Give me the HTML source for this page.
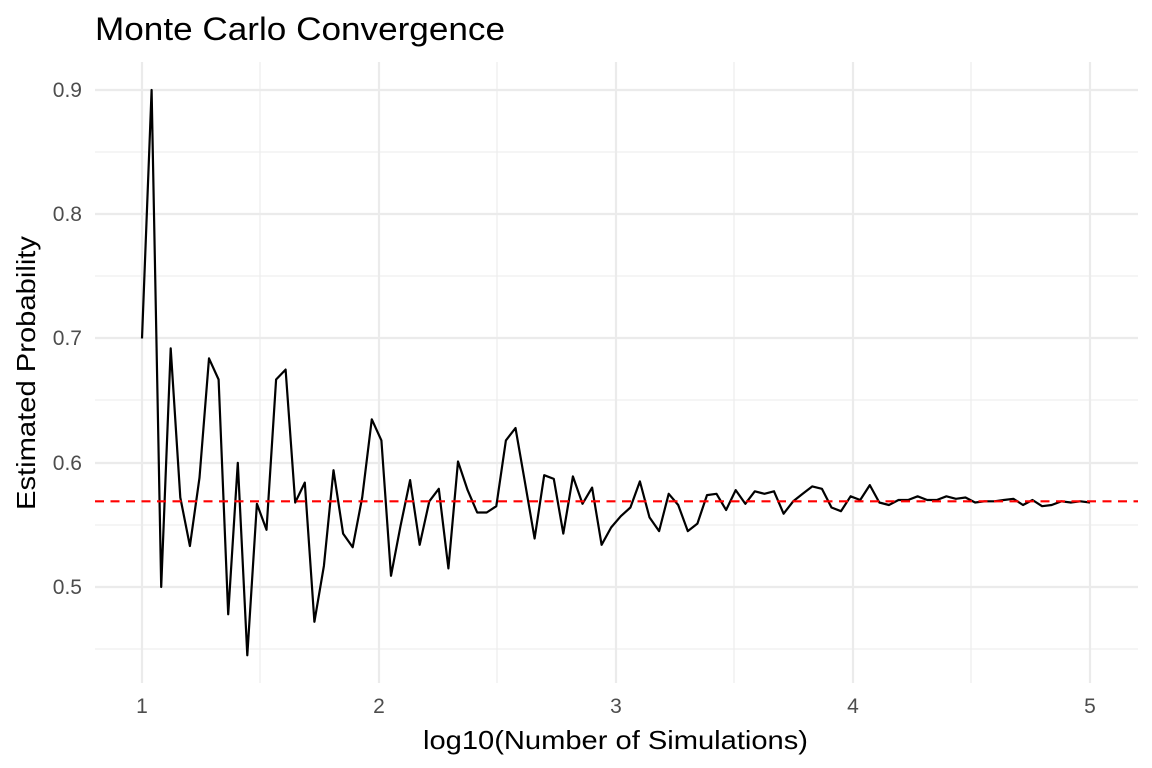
<!DOCTYPE html>
<html><head><meta charset="utf-8"><style>html,body{margin:0;padding:0;background:#fff}svg{display:block}</style></head>
<body>
<svg width="1152" height="768" viewBox="0 0 1152 768" xmlns="http://www.w3.org/2000/svg" font-family="Liberation Sans, Arial, sans-serif">
<rect width="1152" height="768" fill="#fff"/>
<g stroke="#ebebeb" stroke-width="1.1">
<line x1="260" y1="62" x2="260" y2="683"/><line x1="497" y1="62" x2="497" y2="683"/><line x1="734" y1="62" x2="734" y2="683"/><line x1="971" y1="62" x2="971" y2="683"/>
<line x1="95" y1="152" x2="1138" y2="152"/><line x1="95" y1="276" x2="1138" y2="276"/><line x1="95" y1="400" x2="1138" y2="400"/><line x1="95" y1="525" x2="1138" y2="525"/><line x1="95" y1="649" x2="1138" y2="649"/>
</g>
<g stroke="#ebebeb" stroke-width="2.2">
<line x1="142" y1="62" x2="142" y2="683"/><line x1="379" y1="62" x2="379" y2="683"/><line x1="616" y1="62" x2="616" y2="683"/><line x1="853" y1="62" x2="853" y2="683"/><line x1="1090" y1="62" x2="1090" y2="683"/>
<line x1="95" y1="90" x2="1138" y2="90"/><line x1="95" y1="214" x2="1138" y2="214"/><line x1="95" y1="338" x2="1138" y2="338"/><line x1="95" y1="463" x2="1138" y2="463"/><line x1="95" y1="587" x2="1138" y2="587"/>
</g>
<polyline id="ln" fill="none" stroke="#000" stroke-width="2.2" stroke-linejoin="round" points=""/>
<line x1="95" y1="501.3" x2="1138" y2="501.3" stroke="#ff0000" stroke-width="2.2" stroke-dasharray="9,6.5"/>
<g fill="#4d4d4d" font-size="21" text-anchor="end">
<text x="82" y="97">0.9</text><text x="82" y="221">0.8</text><text x="82" y="345">0.7</text><text x="82" y="470">0.6</text><text x="82" y="594">0.5</text>
</g>
<g fill="#4d4d4d" font-size="21" text-anchor="middle">
<text x="142" y="713">1</text><text x="379" y="713">2</text><text x="616" y="713">3</text><text x="853" y="713">4</text><text x="1090" y="713">5</text>
</g>
<text x="423" y="749" font-size="26" fill="#000" textLength="385" lengthAdjust="spacingAndGlyphs">log10(Number of Simulations)</text>
<text transform="translate(35,510) rotate(-90)" font-size="26" fill="#000" textLength="274" lengthAdjust="spacingAndGlyphs">Estimated Probability</text>
<text x="95" y="40" font-size="32" fill="#000" textLength="410" lengthAdjust="spacingAndGlyphs">Monte Carlo Convergence</text>
</svg>
<script>
var v=[0.700,0.900,0.500,0.692,0.572,0.533,0.588,0.684,0.667,0.478,0.600,0.445,0.567,0.546,0.667,0.675,0.568,0.584,0.472,0.517,0.594,0.543,0.532,0.572,0.635,0.618,0.509,0.549,0.586,0.534,0.569,0.579,0.515,0.601,0.578,0.560,0.560,0.565,0.618,0.628,0.584,0.539,0.590,0.587,0.543,0.589,0.567,0.580,0.534,0.548,0.557,0.564,0.585,0.556,0.545,0.575,0.566,0.545,0.551,0.574,0.575,0.562,0.578,0.567,0.577,0.575,0.577,0.559,0.569,0.575,0.581,0.579,0.564,0.561,0.573,0.570,0.582,0.568,0.566,0.570,0.570,0.573,0.570,0.570,0.573,0.571,0.572,0.568,0.569,0.569,0.570,0.571,0.566,0.570,0.565,0.566,0.569,0.568,0.569,0.568];
var p=[];for(var i=0;i<v.length;i++){p.push((142+948*i/99).toFixed(1)+","+(90+(0.9-v[i])*1242.5).toFixed(1));}
document.getElementById("ln").setAttribute("points",p.join(" "));
</script>
</body></html>
